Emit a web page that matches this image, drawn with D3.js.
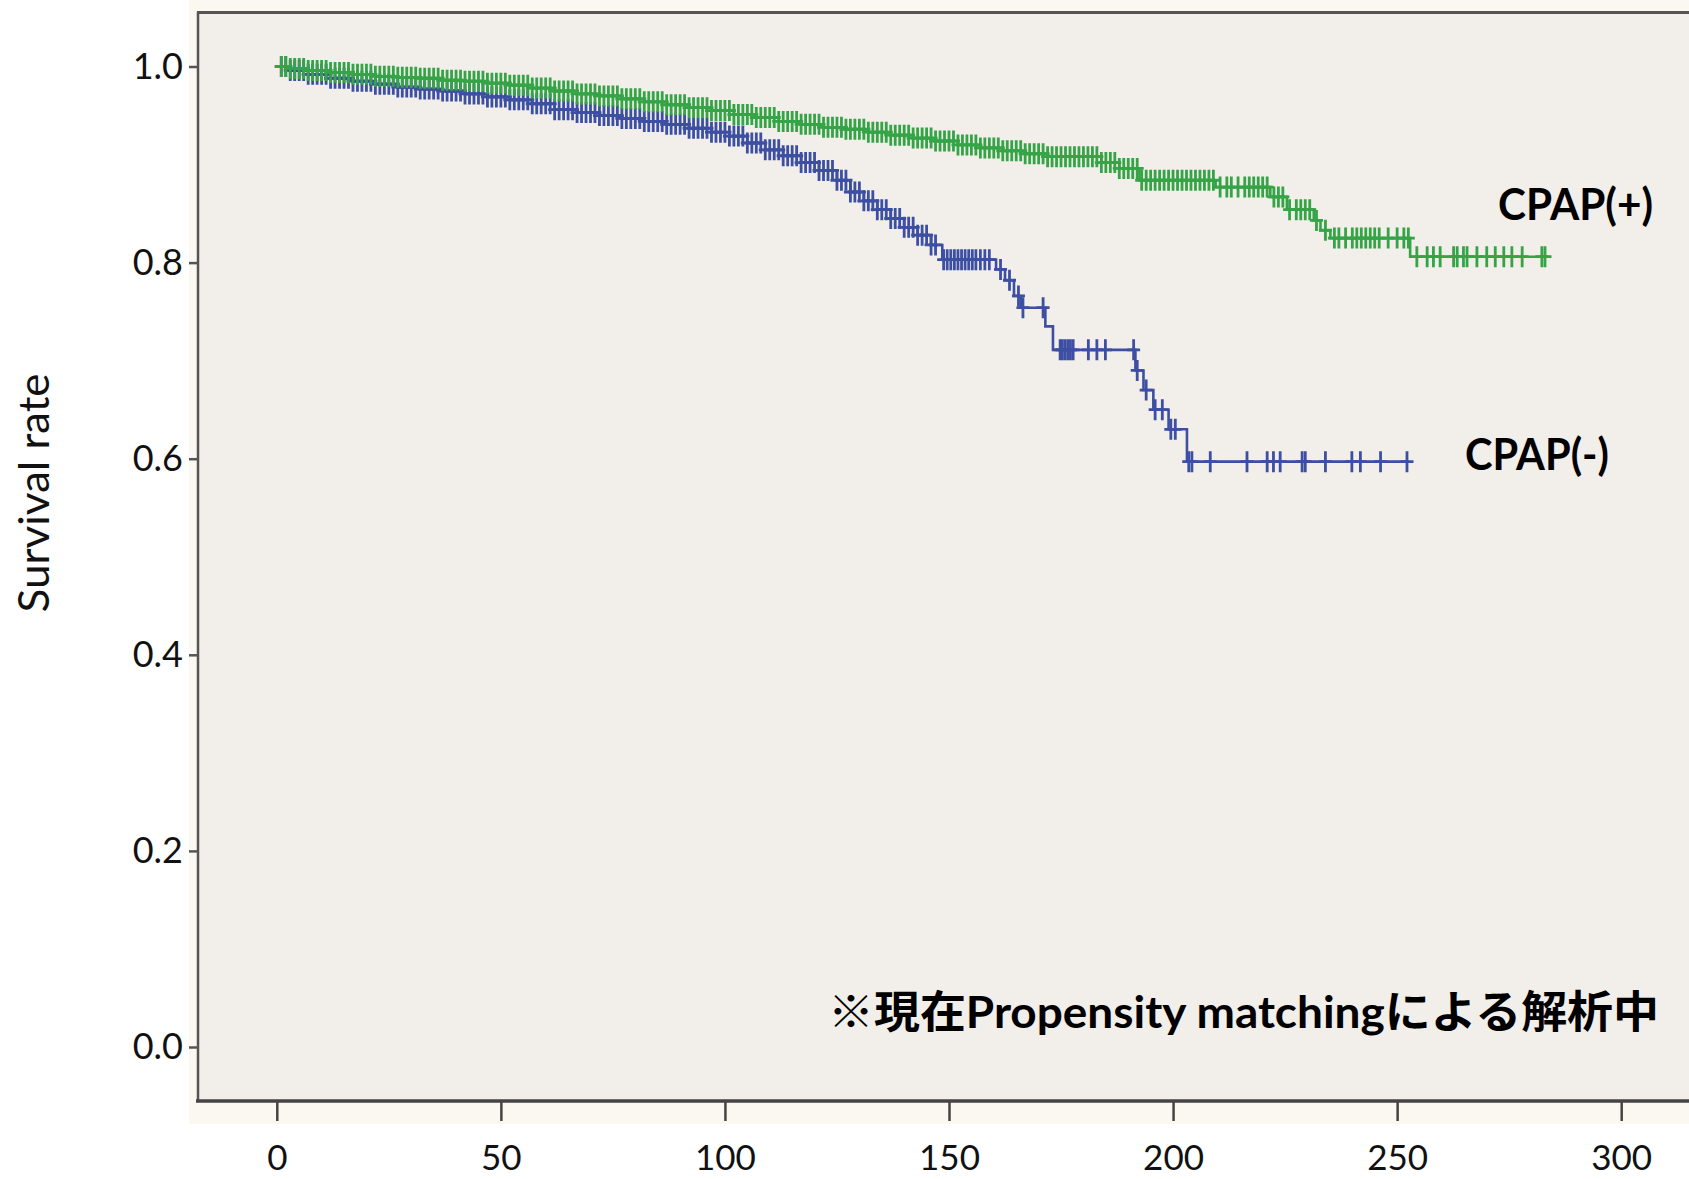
<!DOCTYPE html>
<html><head><meta charset="utf-8">
<script src="https://cdn.jsdelivr.net/npm/d3@7"></script>
<style>body{margin:0;background:#fff;}svg{display:block;}</style>
</head><body><svg id="chart" width="1689" height="1179"></svg>
<script>
// ---------------- data ----------------
const xTickValues = [0, 50, 100, 150, 200, 250, 300];
const yTickValues = [0.0, 0.2, 0.4, 0.6, 0.8, 1.0];
const seriesNames = ["CPAP(+)", "CPAP(-)"];
const yAxisTitle = "Survival rate";
const noteText = "※現在Propensity matchingによる解析中";

// Kaplan-Meier step points [time, survival]
const cpapPlusSteps = [[0,1.000],[3,0.998],[7,0.996],[12,0.994],[17,0.992],[22,0.990],[27,0.989],[32,0.988],[37,0.986],[42,0.985],[47,0.983],[52,0.981],[57,0.978],[62,0.975],[67,0.972],[72,0.970],[77,0.967],[82,0.964],[87,0.961],[92,0.958],[97,0.955],[102,0.951],[107,0.948],[112,0.944],[117,0.941],[122,0.938],[127,0.936],[132,0.933],[137,0.930],[142,0.927],[147,0.924],[152,0.920],[157,0.917],[162,0.914],[167,0.911],[172,0.908],[184,0.902],[188,0.896],[192.5,0.884],[209.5,0.877],[221.7,0.867],[225.4,0.854],[231.4,0.843],[232.9,0.833],[235.1,0.825],[252.9,0.806],[283.5,0.806]];
const cpapMinusSteps = [[0,1.000],[3,0.996],[7,0.992],[12,0.988],[17,0.985],[22,0.982],[27,0.979],[32,0.977],[37,0.975],[42,0.972],[47,0.969],[52,0.966],[57,0.962],[62,0.956],[67,0.953],[72,0.950],[77,0.947],[82,0.944],[87,0.941],[92,0.937],[97,0.933],[101,0.929],[105,0.922],[109,0.915],[113,0.909],[117,0.902],[121,0.894],[125,0.884],[128,0.872],[131,0.863],[134,0.854],[137,0.845],[140,0.836],[143,0.828],[146,0.818],[148.5,0.803],[160.5,0.793],[162.5,0.782],[164.5,0.766],[166,0.754],[171.5,0.735],[173.2,0.711],[191.6,0.690],[193.4,0.670],[195.6,0.650],[199,0.630],[203.1,0.597],[252.5,0.597]];

// censored observation times
const cpapPlusCensored = [1,2,3,4,5,6,7,8,9,10,11,12,13,14,15,16,17,18,19,20,21,22,23,24,25,26,27,28,29,30,31,32,33,34,35,36,37,38,39,40,41,42,43,44,45,46,47,48,49,50,51,52,53,54,55,56,57,58,59,60,61,62,63,64,65,66,67,68,69,70,71,72,73,74,75,76,77,78,79,80,81,82,83,84,85,86,87,88,89,90,91,92,93,94,95,96,97,98,99,100,101,102,103,104,105,106,107,108,109,110,111,112,113,114,115,116,117,118,119,120,121,122,123,124,125,126,127,128,129,130,131,132,133,134,135,136,137,138,139,140,141,142,143,144,145,146,147,148,149,150,151,152,153,154,155,156,157,158,159,160,161,162,163,164,165,166,167,168,169,170,171,172,173,174,175,176,177,178,179,180,181,182,183,184,185,186,187,188,189,190,191,192,193,194,195,196,197,198,199,200,201,202,203,204,205,206,207,208,209,210.5,212,213,214.5,216,217,218,219,220,221,222.5,223.5,224.5,226,227.5,228.5,229.5,230.5,232,234,236,237,238.5,240,241,242,243,244,245,246,248,250,251.5,252.5,254.4,256.7,258.1,259.6,262.6,263.4,264.8,265.6,267.8,270,271.9,273.8,275.6,277.9,282.3,283];
const cpapMinusCensored = [1,2,3,4,5,6,7,8,9,10,11,12,13,14,15,16,17,18,19,20,21,22,23,24,25,26,27,28,29,30,31,32,33,34,35,36,37,38,39,40,41,42,43,44,45,46,47,48,49,50,51,52,53,54,55,56,57,58,59,60,61,62,63,64,65,66,67,68,69,70,71,72,73,74,75,76,77,78,79,80,81,82,83,84,85,86,87,88,89,90,91,92,93,94,95,96,97,98,99,100,101,102,103,104,105,106,107,108,109,110,111,112,113,114,115,116,117,118,119,120,121,122,123,124,125,126,127,128,129,130,131,132,133,134,135,136,137,138,139,140,141,142,143,144,145,146,147,148.8,149.6,150.4,151.2,152,152.8,153.6,154.4,155.2,156,157,158,159,161.5,163.5,165.5,166.5,171,174.8,175.3,175.9,176.5,177.1,177.7,181.1,183,184.9,191.2,192,194,196,197.6,199.5,200.5,203.5,204.2,208.3,216.5,221,222.4,223.9,228.8,229.5,234,239.9,241.8,246.3,252.2];

// ---------------- drawing ----------------
const svg = d3.select("#chart");
const x = d3.scaleLinear().domain([0, 300]).range([276.8, 1621.2]);
const y = d3.scaleLinear().domain([0, 1]).range([1047, 66.5]);
const FONT = "Lato, 'Noto Sans', sans-serif";

svg.append("rect").attr("width", 1689).attr("height", 1179).attr("fill", "#ffffff");
// outer chart area
svg.append("rect").attr("x", 189).attr("y", 0).attr("width", 1500).attr("height", 1124).attr("fill", "#FAF8F1");
// plot area
svg.append("rect").attr("x", 198).attr("y", 12).attr("width", 1500).attr("height", 1089).attr("fill", "#F2EEE9");
// frame lines
svg.append("line").attr("x1", 197).attr("x2", 1689).attr("y1", 12.5).attr("y2", 12.5).attr("stroke", "#555").attr("stroke-width", 3);
svg.append("line").attr("x1", 198).attr("x2", 198).attr("y1", 12).attr("y2", 1102).attr("stroke", "#555").attr("stroke-width", 2.5);

// y axis
const gy = svg.append("g").attr("transform", "translate(198,0)")
  .call(d3.axisLeft(y).tickValues(yTickValues).tickFormat(d3.format(".1f")).tickSize(9).tickPadding(6));
gy.select(".domain").remove();
gy.selectAll(".tick line").attr("stroke", "#555").attr("stroke-width", 2.5);
gy.selectAll(".tick text").attr("font-family", FONT).attr("font-size", 36).attr("fill", "#111");

// x axis
const gx = svg.append("g").attr("transform", "translate(0,1101)")
  .call(d3.axisBottom(x).tickValues(xTickValues).tickFormat(d3.format("d")).tickSize(20).tickPadding(6));
gx.select(".domain").remove();
gx.selectAll(".tick line").attr("stroke", "#444").attr("stroke-width", 2.5);
gx.selectAll(".tick text").attr("font-family", FONT).attr("font-size", 35).attr("fill", "#111")
  .attr("y", 69).attr("dy", 0);
svg.append("line").attr("x1", 196).attr("x2", 1689).attr("y1", 1101).attr("y2", 1101).attr("stroke", "#444").attr("stroke-width", 3.5);

// survival curves
const line = d3.line().x(d => x(d[0])).y(d => y(d[1])).curve(d3.curveStepAfter);
const bis = d3.bisector(d => d[0]).right;
function survAt(steps, t) { const i = bis(steps, t) - 1; return steps[Math.max(0, i)][1]; }

const series = [
  {name: seriesNames[1], steps: cpapMinusSteps, cens: cpapMinusCensored, color: "#3D4FA2"},
  {name: seriesNames[0], steps: cpapPlusSteps, cens: cpapPlusCensored, color: "#34A446"}
];
series.forEach(s => {
  const g = svg.append("g");
  g.append("path").datum(s.steps).attr("d", line).attr("fill", "none")
    .attr("stroke", s.color).attr("stroke-width", 2.6);
  g.selectAll("path.mark").data(s.cens).join("path").attr("class", "mark")
    .attr("d", t => { const px = x(t), py = y(survAt(s.steps, t));
      return `M${px-6.5},${py}H${px+6.5}M${px},${py-10.5}V${py+10.5}`; })
    .attr("fill", "none").attr("stroke", s.color).attr("stroke-width", 2.8);
});

// labels
svg.append("text").attr("x", 1498).attr("y", 220).text(seriesNames[0])
  .attr("font-family", FONT).attr("font-weight", "bold").attr("font-size", 44).attr("fill", "#000")
  .attr("textLength", 155).attr("lengthAdjust", "spacingAndGlyphs");
svg.append("text").attr("x", 1465).attr("y", 470).text(seriesNames[1])
  .attr("font-family", FONT).attr("font-weight", "bold").attr("font-size", 44).attr("fill", "#000")
  .attr("textLength", 144).attr("lengthAdjust", "spacingAndGlyphs");
svg.append("text").attr("x", 828).attr("y", 1028).text(noteText)
  .attr("font-family", "Lato, 'Noto Sans CJK JP', sans-serif").attr("font-weight", "bold").attr("font-size", 44).attr("fill", "#000")
  .attr("textLength", 831).attr("lengthAdjust", "spacingAndGlyphs");
svg.append("text").attr("transform", "translate(49,493) rotate(-90)").attr("text-anchor", "middle")
  .text(yAxisTitle).attr("font-family", FONT).attr("font-size", 42).attr("fill", "#111")
  .attr("textLength", 239).attr("lengthAdjust", "spacingAndGlyphs");
</script></body></html>
